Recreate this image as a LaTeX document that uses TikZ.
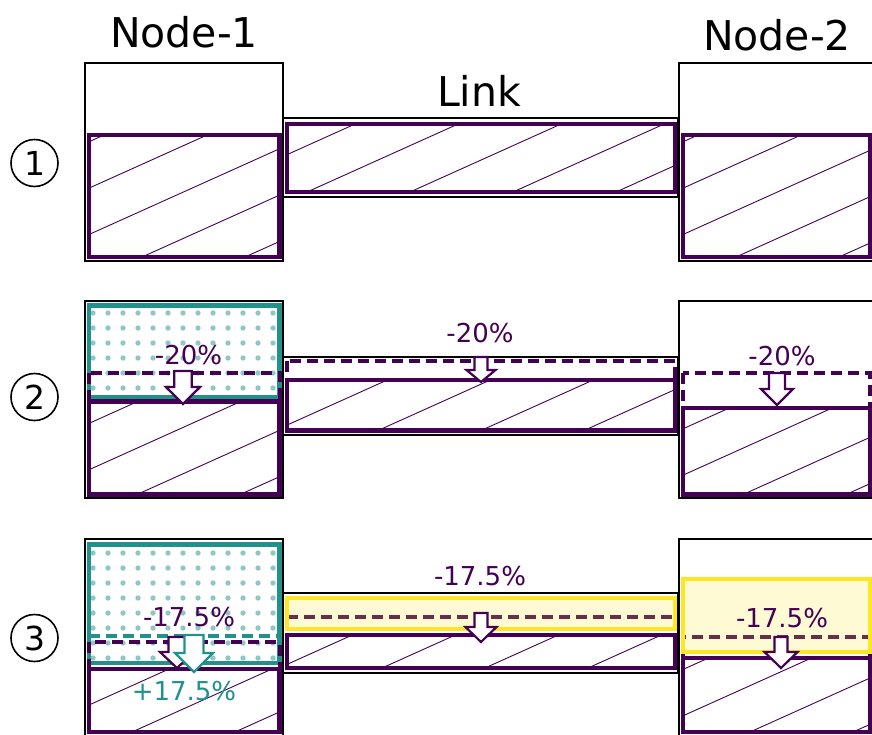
\documentclass[tikz,border=0pt]{standalone}
\usepackage{fontspec}
\setmainfont{DejaVu Sans}
\definecolor{vpurple}{HTML}{440154}
\definecolor{vteal}{HTML}{21918C}
\definecolor{vyellow}{HTML}{FDE725}
\tikzset{
  obox/.style={draw=black, line width=1.6pt},
  pbox/.style={draw=vpurple, line width=4.3pt},
  tbox/.style={draw=vteal, line width=4.3pt},
  ybox/.style={draw=vyellow, line width=3.8pt},
  yfill/.style={fill=vyellow, fill opacity=0.2},
  hatchline/.style={draw=vpurple, line width=0.9pt},
  dashp/.style={draw=vpurple, line width=4pt, dash pattern=on 11pt off 6pt},
  dasht/.style={draw=vteal, line width=4pt, dash pattern=on 11pt off 6pt},
  tealdot/.style={fill=vteal, fill opacity=0.5},
  arr/.style={fill=white, line width=2.2pt, line join=miter},
  title/.style={font=\fontsize{41}{49}\selectfont, anchor=base, inner sep=0pt},
  lab/.style={font=\fontsize{26}{31}\selectfont, text=vpurple, anchor=base, inner sep=0pt},
  circ/.style={circle, draw=black, line width=1.6pt, minimum size=47pt, inner sep=0pt, font=\fontsize{33}{39}\selectfont}
}
\newcommand{\hatchbox}[5]{%
  \begin{scope}
    \clip (#1,#2) rectangle (#3,#4);
    \foreach \k in {-5,...,5} \draw[hatchline] ({#5+\k*103},#4) -- ++(420,-189);
  \end{scope}
  \draw[pbox] (#1,#2) rectangle (#3,#4);}
\newcommand{\dnarrow}[7]{%
  \draw[arr,draw=#1] ({#2-#6},#3) -- ({#2-#6},#4) -- ({#2-#7},#4) -- (#2,#5) -- ({#2+#7},#4) -- ({#2+#6},#4) -- ({#2+#6},#3) -- cycle;}
\newcommand{\dotgrid}[2]{%
  \foreach \i in {0,...,12} \foreach \j in {0,...,#2} \fill[tealdot] ({93+15*\i},{#1+15*\j}) circle (2.7);}
\begin{document}
\begin{tikzpicture}[x=1pt,y=-1pt]
\useasboundingbox (0,0) rectangle (872,734);
\clip (0,0) rectangle (872,734);
\fill[white] (0,0) rectangle (872,734);

% titles
\node[title] (t1) at (184,47) {Node-1};
\node[title] (t2) at (777,50) {Node-2};
\node[title] (tl) at (479,106) {Link};

% row numbers
\node[circ] (c1) at (34.5,163) {1};
\node[circ] (c2) at (34.5,397) {2};
\node[circ] (c3) at (34.5,638) {3};

% ---------- row 1
\draw[obox] (85,63) rectangle (283,261);
\hatchbox{89}{135}{279.5}{257}{142}
\draw[obox] (283,118) rectangle (678,197);
\hatchbox{287}{124}{675}{192}{307}
\draw[obox] (679,63) rectangle (877,261);
\hatchbox{683}{135}{870}{257}{736}

% ---------- row 2
\draw[obox] (85,301) rectangle (283,498);
\dotgrid{313}{5}
\draw[tbox] (89,305.5) rectangle (279.5,397);
\draw[dashp] (89,372.5) rectangle (279.5,494.5);
\hatchbox{89}{401.5}{279.5}{494.5}{137}
\dnarrow{vpurple}{183}{371}{387}{404}{8.7}{17}
\node[lab] (l21) at (188.5,364) {-20\%};

\draw[obox] (283,357) rectangle (678,435);
\draw[dashp] (287,361) rectangle (675,430.5);
\hatchbox{287}{380}{675}{430.5}{378}
\dnarrow{vpurple}{481}{357}{370}{382}{6.5}{14.5}
\node[lab] (l2l) at (480,342) {-20\%};

\draw[obox] (679,301) rectangle (877,498);
\draw[dashp] (683,372.5) rectangle (870,494.5);
\hatchbox{683}{408}{870}{494.5}{743}
\dnarrow{vpurple}{777}{373}{389}{405}{8}{16}
\node[lab] (l22) at (782,365) {-20\%};

% ---------- row 3
\draw[obox] (85,539) rectangle (283,737);
\dotgrid{553}{7}
\draw[dasht] (89,636) -- (279.5,636);
\draw[tbox] (89,544.5) rectangle (279.5,663);
\draw[dashp] (89,642) rectangle (279.5,732);
\hatchbox{89}{669}{279.5}{732}{132}
\dnarrow{vpurple}{177}{637}{652}{668}{8.5}{17}
\dnarrow{vteal}{194}{635}{653}{672}{9.5}{19}
\node[lab] (l31) at (189,626) {-17.5\%};
\node[lab, text=vteal] (l31b) at (184,700) {+17.5\%};

\draw[obox] (283,593) rectangle (678,673);
\draw[dashp] (287,617) rectangle (675,668);
\hatchbox{287}{635}{675}{668}{382}
\fill[yfill] (287,598) rectangle (675,629);
\draw[ybox] (287,598) rectangle (675,629);
\dnarrow{vpurple}{481}{613}{627}{642}{6.5}{15.5}
\node[lab] (l3l) at (480,585) {-17.5\%};

\draw[obox] (679,539) rectangle (877,737);
\draw[dashp] (683,637) rectangle (870,732);
\hatchbox{683}{658}{870}{732}{750}
\fill[yfill] (683,579) rectangle (870,652);
\draw[ybox] (683,579) rectangle (870,652);
\dnarrow{vpurple}{781}{637}{652}{668}{6.5}{16.5}
\node[lab] (l32) at (782,627) {-17.5\%};
\end{tikzpicture}
\end{document}
